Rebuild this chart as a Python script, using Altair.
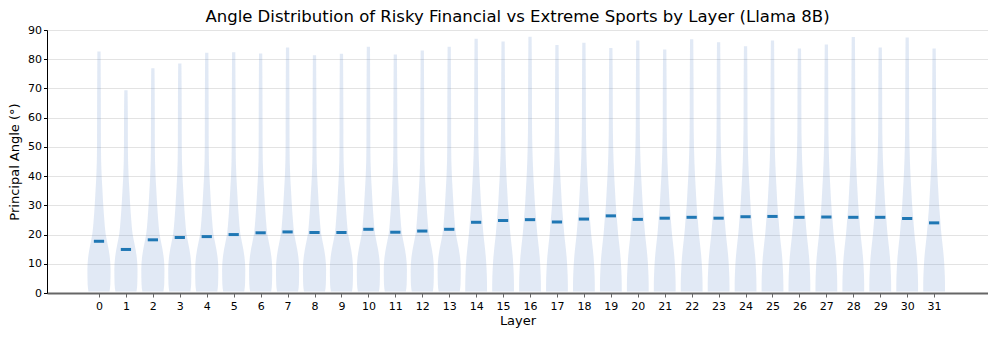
import altair as alt
import pandas as pd

layers = list(range(32))
medians = [17.7, 14.9, 18.2, 19.0, 19.3, 20.0, 20.6, 20.9, 20.7, 20.7,
           21.8, 20.8, 21.2, 21.8, 24.2, 24.8, 25.1, 24.3, 25.3, 26.4,
           25.2, 25.6, 25.9, 25.6, 26.1, 26.2, 25.9, 26.0, 25.9, 25.9,
           25.5, 24.0]
maxima = [82.6, 69.4, 76.9, 78.5, 82.2, 82.4, 82.0, 84.0, 81.4, 81.9,
          84.3, 81.6, 83.0, 84.3, 87.0, 86.1, 87.7, 84.9, 85.6, 83.8,
          86.4, 83.3, 86.8, 85.8, 84.4, 86.4, 83.7, 85.0, 87.6, 84.0,
          87.4, 83.7]
minimum = 0.5

# relative violin widths (density) at these angles
profile_y = [0.5, 3, 8, 12, 15, 20, 25, 30, 35, 40, 50, 60, 70]
early_w = [0.91, 0.98, 1.0, 0.94, 0.83, 0.58, 0.46, 0.37, 0.30, 0.23, 0.17, 0.165, 0.157]
late_w = [0.94, 0.94, 0.90, 0.84, 0.77, 0.63, 0.53, 0.43, 0.36, 0.29, 0.20, 0.17, 0.165]
top_w = 0.14
late_start = 14

rows = []
for L, mx in zip(layers, maxima):
    prof = early_w if L < late_start else late_w
    for y, w in zip(profile_y, prof):
        if y < mx:
            rows.append({"layer": L, "angle": y, "w": w})
    rows.append({"layer": L, "angle": mx, "w": top_w})
vdf = pd.DataFrame(rows)
mdf = pd.DataFrame({"layer": layers, "median": medians})

HW = 0.43
xscale = alt.Scale(domain=[-1.93, 33.0], nice=False, zero=False)
yscale = alt.Scale(domain=[0, 90], nice=False)

xaxis = alt.Axis(values=layers, title="Layer", grid=False, labelFontSize=11,
                 titleFontSize=13, titleFontWeight="normal", labelColor="black",
                 titleColor="black", domainColor="#666666", domainWidth=2,
                 tickColor="#666666", tickSize=4, labelPadding=3, titlePadding=3)
yaxis = alt.Axis(values=list(range(0, 91, 10)), title="Principal Angle (°)",
                 grid=True, gridColor="#e3e3e3", gridWidth=1, labelFontSize=11,
                 titleFontSize=13, titleFontWeight="normal", labelColor="black",
                 titleColor="black", domainColor="black", tickColor="black",
                 tickSize=3.5, labelPadding=2, titlePadding=6)

violins = alt.Chart(vdf).transform_calculate(
    left=f"datum.layer - datum.w * {HW}",
    right=f"datum.layer + datum.w * {HW}",
).mark_area(orient="horizontal", interpolate="monotone", color="#6a93cc",
            opacity=0.2).encode(
    y=alt.Y("angle:Q", scale=yscale, axis=yaxis),
    x=alt.X("left:Q", scale=xscale, axis=xaxis),
    x2="right:Q",
    detail="layer:N",
)

med = alt.Chart(mdf).transform_calculate(
    lo="datum.layer - 0.19", hi="datum.layer + 0.19"
).mark_rule(color="#1f77b4", strokeWidth=3).encode(
    x=alt.X("lo:Q", scale=xscale, axis=xaxis),
    x2="hi:Q",
    y=alt.Y("median:Q", scale=yscale, axis=yaxis),
)

chart = alt.layer(violins, med).properties(
    width=941, height=263,
    autosize=alt.AutoSizeParams(type="none"),
    padding={"left": 39, "top": 22, "right": 0, "bottom": 40},
    title=alt.Title("Angle Distribution of Risky Financial vs Extreme Sports by Layer (Llama 8B)",
                    fontSize=16.5, fontWeight="normal", color="black", anchor="middle", offset=-1),
).configure(font="DejaVu Sans").configure_view(stroke=None)

chart.save("out.html", embed_options={"renderer": "svg", "actions": False})
